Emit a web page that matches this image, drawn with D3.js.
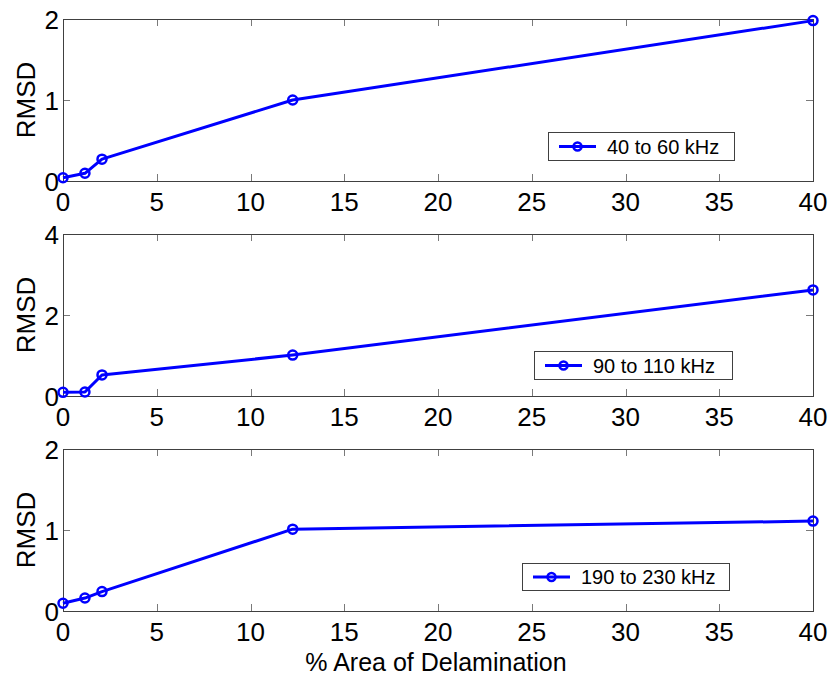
<!DOCTYPE html>
<html>
<head>
<meta charset="utf-8">
<script src="https://cdn.jsdelivr.net/npm/d3@7"></script>
<style>
  html, body { margin: 0; padding: 0; background: #fff; }
  svg { display: block; font-family: "Liberation Sans", Arial, sans-serif; }
</style>
</head>
<body>
<svg id="chart" width="831" height="677"></svg>
<script>
// Delamination area (%) tested at each frequency band
const delamination = [0, 1.17, 2.08, 12.25, 40];

const rmsdLow  = [0.04, 0.095, 0.27, 1.0, 1.98];   // 40 to 60 kHz
const rmsdMid  = [0.09, 0.10, 0.52, 1.01, 2.62];   // 90 to 110 kHz
const rmsdHigh = [0.095, 0.16, 0.24, 1.01, 1.11];  // 190 to 230 kHz

const seriesNames = ["40 to 60 kHz", "90 to 110 kHz", "190 to 230 kHz"];
const xTicks = [0, 5, 10, 15, 20, 25, 30, 35, 40];
const yTicksLow  = [0, 1, 2];
const yTicksMid  = [0, 2, 4];
const yTicksHigh = [0, 1, 2];

const svg = d3.select("#chart");
const left = 63, right = 813;
const x = d3.scaleLinear().domain([0, 40]).range([left, right]);

const panels = [
  { values: rmsdLow,  ticks: yTicksLow,  max: 2, top: 19,  bottom: 181, name: seriesNames[0], legend: [548, 132, 186, 28] },
  { values: rmsdMid,  ticks: yTicksMid,  max: 4, top: 234, bottom: 396, name: seriesNames[1], legend: [534, 351, 198, 28] },
  { values: rmsdHigh, ticks: yTicksHigh, max: 2, top: 449, bottom: 611, name: seriesNames[2], legend: [522, 563, 207, 27] }
];

const blue = "#0000ff";
const tickLen = 7;
const labelSize = 26;

panels.forEach(p => {
  const y = d3.scaleLinear().domain([0, p.max]).range([p.bottom, p.top]);
  const g = svg.append("g");

  // inward tick marks on all four sides
  const ticks = g.append("g").attr("stroke", "#7a7a7a").attr("stroke-width", 1);
  xTicks.slice(1, -1).forEach(t => {
    const xp = Math.round(x(t)) + 0.5;
    ticks.append("line").attr("x1", xp).attr("x2", xp).attr("y1", p.bottom).attr("y2", p.bottom - tickLen);
    ticks.append("line").attr("x1", xp).attr("x2", xp).attr("y1", p.top).attr("y2", p.top + tickLen);
  });
  p.ticks.slice(1, -1).forEach(t => {
    const yp = Math.round(y(t)) + 0.5;
    ticks.append("line").attr("x1", left).attr("x2", left + tickLen).attr("y1", yp).attr("y2", yp);
    ticks.append("line").attr("x1", right).attr("x2", right - tickLen).attr("y1", yp).attr("y2", yp);
  });

  // axes box
  g.append("rect")
    .attr("x", left + 0.5).attr("y", p.top + 0.5)
    .attr("width", right - left).attr("height", p.bottom - p.top)
    .attr("fill", "none").attr("stroke", "#404040").attr("stroke-width", 1);

  // tick labels
  g.append("g").selectAll("text").data(xTicks).join("text")
    .attr("x", d => x(d)).attr("y", p.bottom + 30)
    .attr("text-anchor", "middle").attr("font-size", labelSize).attr("fill", "#000")
    .text(d => d);
  g.append("g").selectAll("text").data(p.ticks).join("text")
    .attr("x", left - 4).attr("y", d => y(d) + 10)
    .attr("text-anchor", "end").attr("font-size", labelSize).attr("fill", "#000")
    .text(d => d);

  // y-axis title
  const cy = (p.top + p.bottom) / 2;
  g.append("text")
    .attr("transform", `translate(35,${cy}) rotate(-90)`)
    .attr("text-anchor", "middle").attr("font-size", labelSize).attr("fill", "#000")
    .text("RMSD");

  // data line with circle markers
  const pts = delamination.map((d, i) => [x(d), y(p.values[i])]);
  g.append("path")
    .attr("d", d3.line()(pts))
    .attr("fill", "none").attr("stroke", blue).attr("stroke-width", 3)
    .attr("stroke-linejoin", "round");
  g.append("g").selectAll("circle").data(pts).join("circle")
    .attr("cx", d => d[0]).attr("cy", d => d[1]).attr("r", 4.5)
    .attr("fill", "none").attr("stroke", blue).attr("stroke-width", 2.5);

  // legend
  const [lx, ly, lw, lh] = p.legend;
  g.append("rect")
    .attr("x", lx + 0.5).attr("y", ly + 0.5).attr("width", lw).attr("height", lh)
    .attr("fill", "#fff").attr("stroke", "#404040").attr("stroke-width", 1);
  const my = ly + lh / 2 + 0.5;
  g.append("line")
    .attr("x1", lx + 11).attr("x2", lx + 48).attr("y1", my).attr("y2", my)
    .attr("stroke", blue).attr("stroke-width", 3);
  g.append("circle")
    .attr("cx", lx + 29.5).attr("cy", my).attr("r", 4)
    .attr("fill", "none").attr("stroke", blue).attr("stroke-width", 2.5);
  g.append("text")
    .attr("x", lx + 59).attr("y", my + 7)
    .attr("font-size", 20).attr("fill", "#000")
    .text(p.name);
});

// shared x-axis title
svg.append("text")
  .attr("x", (left + right) / 2 - 2).attr("y", 671)
  .attr("text-anchor", "middle").attr("font-size", 25).attr("fill", "#000")
  .text("% Area of Delamination");
</script>
</body>
</html>
